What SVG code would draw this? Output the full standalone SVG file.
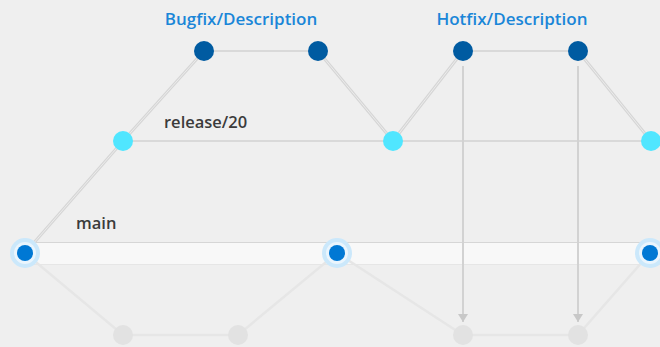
<svg xmlns="http://www.w3.org/2000/svg" width="660" height="347" viewBox="0 0 660 347">
  <defs>
    <marker id="arrow" viewBox="0 0 8 10" refX="8" refY="5" markerWidth="8" markerHeight="10" markerUnits="userSpaceOnUse" orient="auto">
      <path d="M0,0 L8,5 L0,10 Z" fill="#c8c8c8"/>
    </marker>
  </defs>
  <style>
    .label { font-family: "Open Sans", "Liberation Sans", sans-serif; font-weight: 600; }
    .branch { fill: #1a86d8; font-size: 17px; }
    .lane { fill: #3b3b3b; font-size: 16.5px; }
    .edge { fill: none; stroke: #d9d9d9; stroke-width: 2; }
    .diag { fill: none; stroke: #d6d6d6; stroke-width: 3; }
    .diag-core { fill: none; stroke: #ececec; stroke-width: 1; }
    .faint { fill: none; stroke: #e6e6e6; stroke-width: 2.5; }
    .drop { fill: none; stroke: #d2d2d2; stroke-width: 2; }
    .bugfix { fill: #005ba1; }
    .release { fill: #50e6ff; }
    .halo { fill: #cbe8fb; }
    .halo-in { fill: #eaf5fd; }
    .commit { fill: #0078d4; }
    .ghost { fill: #e2e2e2; }
  </style>

  <rect width="660" height="347" fill="#efefef"/>

  <!-- main lane band -->
  <rect x="25" y="242" width="640" height="22" fill="#f8f8f8"/>
  <line x1="25" y1="242.5" x2="660" y2="242.5" stroke="#d6d6d6" stroke-width="1"/>
  <line x1="25" y1="264.5" x2="660" y2="264.5" stroke="#e6e6e6" stroke-width="1"/>

  <g id="connectors">
    <!-- future commits below main -->
    <polyline class="faint" points="25,253 123,335 238,335 337,253 463,335 578,335 650,253"/>
    <!-- release lane -->
    <line class="edge" x1="123" y1="141" x2="660" y2="141"/>
    <!-- topic branches -->
    <line class="edge" x1="204" y1="51" x2="318" y2="51"/>
    <line class="edge" x1="463" y1="51" x2="578" y2="51"/>
    <polyline class="diag" points="25,253 123,141 204,51"/>
    <polyline class="diag-core" points="25,253 123,141 204,51"/>
    <polyline class="diag" points="318,51 393,141 463,51"/>
    <polyline class="diag-core" points="318,51 393,141 463,51"/>
    <polyline class="diag" points="578,51 651,141"/>
    <polyline class="diag-core" points="578,51 651,141"/>
    <!-- hotfix cherry-picks down to main -->
    <line class="drop" x1="463" y1="66" x2="463" y2="322" marker-end="url(#arrow)"/>
    <line class="drop" x1="578" y1="66" x2="578" y2="322" marker-end="url(#arrow)"/>
  </g>

  <g id="label-bugfix"><text class="label branch" x="241" y="25" text-anchor="middle">Bugfix/Description</text></g>
  <g id="label-hotfix"><text class="label branch" x="512" y="25" text-anchor="middle">Hotfix/Description</text></g>
  <g id="label-release"><text class="label lane" x="164" y="128">release/20</text></g>
  <g id="label-main"><text class="label lane" x="76" y="229">main</text></g>

  <g id="bugfix-1"><circle class="bugfix" cx="204" cy="51" r="10"/></g>
  <g id="bugfix-2"><circle class="bugfix" cx="318" cy="51" r="10"/></g>
  <g id="hotfix-1"><circle class="bugfix" cx="463" cy="51" r="10"/></g>
  <g id="hotfix-2"><circle class="bugfix" cx="578" cy="51" r="10"/></g>

  <g id="release-1"><circle class="release" cx="123" cy="141" r="10"/></g>
  <g id="release-2"><circle class="release" cx="393" cy="141" r="10"/></g>
  <g id="release-3"><circle class="release" cx="651" cy="141" r="10"/></g>

  <g id="main-1">
    <circle class="halo" cx="25" cy="253" r="15"/>
    <circle class="halo-in" cx="25" cy="253" r="11"/>
    <circle class="commit" cx="25" cy="253" r="8"/>
  </g>
  <g id="main-2">
    <circle class="halo" cx="337" cy="253" r="15"/>
    <circle class="halo-in" cx="337" cy="253" r="11"/>
    <circle class="commit" cx="337" cy="253" r="8"/>
  </g>
  <g id="main-3">
    <circle class="halo" cx="650" cy="253" r="15"/>
    <circle class="halo-in" cx="650" cy="253" r="11"/>
    <circle class="commit" cx="650" cy="253" r="8"/>
  </g>

  <g id="future-1"><circle class="ghost" cx="123" cy="335" r="10"/></g>
  <g id="future-2"><circle class="ghost" cx="238" cy="335" r="10"/></g>
  <g id="future-3"><circle class="ghost" cx="463" cy="335" r="10"/></g>
  <g id="future-4"><circle class="ghost" cx="578" cy="335" r="10"/></g>
</svg>
